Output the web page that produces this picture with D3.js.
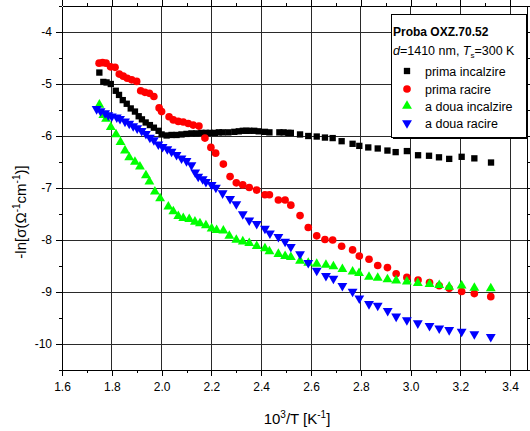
<!DOCTYPE html>
<html><head><meta charset="utf-8">
<script src="https://cdn.jsdelivr.net/npm/d3@7"></script>
<style>
html,body{margin:0;padding:0;background:#fff;}
svg{display:block;font-family:"Liberation Sans",Arial,sans-serif;}
</style></head>
<body>
<svg id="chart" width="530" height="431"></svg>
<script>
// ---- data ----
const xTicks = [1.6,1.8,2.0,2.2,2.4,2.6,2.8,3.0,3.2,3.4];
const yTicks = [-4,-5,-6,-7,-8,-9,-10];
const seriesNames = ["prima incalzire","prima racire","a doua incalzire","a doua racire"];
const seriesColors = ["#000000","#ff0000","#00ff00","#0000ff"];

const primaIncalzireX = [1.75,1.766,1.779,1.796,1.816,1.829,1.844,1.86,1.876,1.893,1.908,1.921,1.936,1.953,1.969,1.988,2.0,2.02,2.04,2.06,2.08,2.10,2.12,2.14,2.16,2.178,2.194,2.214,2.23,2.245,2.268,2.292,2.31,2.326,2.34,2.352,2.372,2.39,2.415,2.433,2.473,2.49,2.509,2.519,2.556,2.589,2.623,2.656,2.687,2.723,2.767,2.794,2.83,2.868,2.907,2.94,2.985,3.03,3.074,3.114,3.155,3.205,3.256,3.323];
const primaIncalzireY = [-4.78,-4.96,-4.97,-5.0,-5.13,-5.21,-5.31,-5.38,-5.47,-5.53,-5.62,-5.68,-5.74,-5.79,-5.84,-5.90,-5.97,-5.99,-5.98,-5.98,-5.97,-5.96,-5.95,-5.95,-5.94,-5.94,-5.94,-5.94,-5.93,-5.93,-5.93,-5.92,-5.91,-5.90,-5.90,-5.90,-5.90,-5.91,-5.92,-5.93,-5.93,-5.93,-5.94,-5.94,-5.97,-6.0,-6.01,-6.03,-6.04,-6.10,-6.15,-6.19,-6.22,-6.24,-6.28,-6.31,-6.29,-6.37,-6.38,-6.41,-6.44,-6.40,-6.43,-6.51];

const primaRacireX = [1.749,1.763,1.777,1.795,1.813,1.830,1.846,1.862,1.880,1.90,1.916,1.933,1.951,1.969,1.99,2.0,2.03,2.047,2.067,2.087,2.107,2.127,2.15,2.174,2.198,2.217,2.248,2.275,2.30,2.326,2.352,2.382,2.415,2.433,2.469,2.496,2.519,2.556,2.589,2.623,2.656,2.687,2.723,2.767,2.794,2.833,2.868,2.907,2.942,2.985,3.03,3.076,3.115,3.155,3.205,3.256,3.322];
const primaRacireY = [-4.60,-4.59,-4.60,-4.67,-4.68,-4.81,-4.85,-4.89,-4.92,-4.95,-5.13,-5.16,-5.18,-5.24,-5.46,-5.53,-5.63,-5.69,-5.72,-5.73,-5.76,-5.79,-5.81,-6.04,-6.22,-6.33,-6.54,-6.78,-6.90,-6.94,-6.99,-7.04,-7.13,-7.13,-7.23,-7.23,-7.33,-7.53,-7.76,-7.92,-7.99,-8.0,-8.12,-8.19,-8.31,-8.37,-8.49,-8.53,-8.65,-8.72,-8.77,-8.82,-8.88,-8.93,-8.99,-9.03,-9.09];

const aDouaIncalzireX = [1.75,1.766,1.777,1.796,1.817,1.835,1.853,1.87,1.893,1.913,1.937,1.951,1.973,1.994,2.027,2.047,2.067,2.087,2.111,2.134,2.154,2.178,2.201,2.221,2.248,2.272,2.30,2.326,2.352,2.382,2.415,2.433,2.469,2.496,2.519,2.556,2.589,2.623,2.66,2.69,2.726,2.767,2.793,2.833,2.868,2.907,2.942,2.985,3.029,3.076,3.115,3.155,3.205,3.256,3.322];
const aDouaIncalzireY = [-5.40,-5.60,-5.67,-5.83,-5.97,-6.12,-6.28,-6.41,-6.50,-6.59,-6.76,-6.88,-7.07,-7.20,-7.36,-7.45,-7.54,-7.58,-7.60,-7.65,-7.68,-7.72,-7.78,-7.81,-7.82,-7.92,-8.0,-8.03,-8.06,-8.12,-8.16,-8.22,-8.27,-8.31,-8.33,-8.40,-8.44,-8.46,-8.48,-8.51,-8.56,-8.61,-8.64,-8.71,-8.73,-8.76,-8.78,-8.80,-8.83,-8.85,-8.87,-8.90,-8.88,-8.92,-8.93];

const aDouaRacireX = [1.739,1.755,1.773,1.786,1.80,1.82,1.833,1.853,1.87,1.886,1.902,1.92,1.937,1.953,1.969,1.987,2.004,2.023,2.04,2.06,2.08,2.10,2.12,2.135,2.147,2.165,2.178,2.201,2.218,2.245,2.275,2.30,2.326,2.352,2.382,2.415,2.435,2.469,2.496,2.519,2.556,2.589,2.623,2.66,2.69,2.726,2.767,2.794,2.833,2.868,2.908,2.942,2.985,3.029,3.076,3.115,3.155,3.205,3.256,3.322];
const aDouaRacireY = [-5.48,-5.52,-5.56,-5.60,-5.62,-5.64,-5.67,-5.72,-5.76,-5.81,-5.85,-5.90,-5.96,-6.03,-6.08,-6.16,-6.21,-6.25,-6.30,-6.36,-6.43,-6.48,-6.56,-6.70,-6.78,-6.83,-6.88,-6.94,-6.99,-7.10,-7.21,-7.31,-7.50,-7.62,-7.69,-7.78,-7.87,-7.94,-8.03,-8.13,-8.27,-8.44,-8.59,-8.69,-8.74,-8.88,-8.99,-9.12,-9.23,-9.26,-9.36,-9.47,-9.54,-9.60,-9.65,-9.70,-9.73,-9.76,-9.81,-9.86];

// ---- layout ----
const svg = d3.select("#chart");
const L = 62, R = 527, T = 6, B = 370;
const x = d3.scaleLinear().domain([1.6, 1.6 + (R - L) / 249]).range([L, R]);
const y = d3.scaleLinear().domain([-10.5, -3.5]).range([B, T]);

const xMinor = d3.range(1.7, 3.45, 0.2).map(v => +v.toFixed(2));
const yMinor = [-3.5,-4.5,-5.5,-6.5,-7.5,-8.5,-9.5,-10.5];

// grid
const grid = svg.append("g").attr("shape-rendering","crispEdges");
grid.selectAll("line.vx").data(xTicks.slice(1)).join("line")
  .attr("x1", d => x(d)).attr("x2", d => x(d)).attr("y1", T).attr("y2", B)
  .attr("stroke", "#2a2a2a").attr("stroke-width", 1);
grid.selectAll("line.hy").data(yTicks).join("line")
  .attr("x1", L).attr("x2", R).attr("y1", d => y(d)).attr("y2", d => y(d))
  .attr("stroke", "#2a2a2a").attr("stroke-width", 1);

// axes
function styleAxis(g){ g.select(".domain").attr("stroke","#000"); g.selectAll("line").attr("stroke","#000"); g.attr("shape-rendering","crispEdges"); }
const fmtX = d3.format(".1f");
const gx = svg.append("g").attr("transform",`translate(0,${B})`)
  .call(d3.axisBottom(x).tickValues(xTicks).tickFormat(fmtX).tickSizeInner(6).tickSizeOuter(0).tickPadding(6));
gx.call(styleAxis);
gx.selectAll("text").attr("font-size", 12).attr("fill","#000").attr("font-family","Liberation Sans, Arial, sans-serif");
svg.append("g").attr("transform",`translate(0,${B})`)
  .call(d3.axisBottom(x).tickValues(xMinor).tickFormat("").tickSizeInner(3).tickSizeOuter(0))
  .call(g => { g.select(".domain").remove(); g.selectAll("line").attr("stroke","#000"); g.attr("shape-rendering","crispEdges"); });

const gy = svg.append("g").attr("transform",`translate(${L},0)`)
  .call(d3.axisLeft(y).tickValues(yTicks).tickFormat(d => String(d)).tickSizeInner(6).tickSizeOuter(0).tickPadding(4));
gy.call(styleAxis);
gy.selectAll("text").attr("font-size", 12).attr("fill","#000").attr("font-family","Liberation Sans, Arial, sans-serif");
svg.append("g").attr("transform",`translate(${L},0)`)
  .call(d3.axisLeft(y).tickValues(yMinor).tickFormat("").tickSizeInner(3).tickSizeOuter(0))
  .call(g => { g.select(".domain").remove(); g.selectAll("line").attr("stroke","#000"); g.attr("shape-rendering","crispEdges"); });

// top and right axes (ticks outward, no labels)
svg.append("g").attr("transform",`translate(0,${T})`)
  .call(d3.axisTop(x).tickValues(xTicks).tickFormat("").tickSizeInner(6).tickSizeOuter(0)).call(styleAxis);
svg.append("g").attr("transform",`translate(0,${T})`)
  .call(d3.axisTop(x).tickValues(xMinor).tickFormat("").tickSizeInner(3).tickSizeOuter(0))
  .call(g => { g.select(".domain").remove(); g.selectAll("line").attr("stroke","#000"); g.attr("shape-rendering","crispEdges"); });
svg.append("g").attr("transform",`translate(${R},0)`)
  .call(d3.axisRight(y).tickValues(yTicks).tickFormat("").tickSizeInner(6).tickSizeOuter(0)).call(styleAxis);
svg.append("g").attr("transform",`translate(${R},0)`)
  .call(d3.axisRight(y).tickValues(yMinor).tickFormat("").tickSizeInner(3).tickSizeOuter(0))
  .call(g => { g.select(".domain").remove(); g.selectAll("line").attr("stroke","#000"); g.attr("shape-rendering","crispEdges"); });

// symbols
const symTypes = [d3.symbolSquare, d3.symbolCircle, d3.symbolTriangle, d3.symbolTriangle];
const symSizes = [40, 46, 42, 42];
const symRot = [0, 0, 0, 180];
const seriesData = [
  d3.zip(primaIncalzireX, primaIncalzireY),
  d3.zip(primaRacireX, primaRacireY),
  d3.zip(aDouaIncalzireX, aDouaIncalzireY),
  d3.zip(aDouaRacireX, aDouaRacireY)
];
const symPath = i => d3.symbol().type(symTypes[i]).size(symSizes[i])();
seriesData.forEach((data, i) => {
  svg.append("g").selectAll("path").data(data).join("path")
    .attr("d", symPath(i))
    .attr("transform", d => `translate(${x(d[0])},${y(d[1])}) rotate(${symRot[i]})`)
    .attr("fill", seriesColors[i]);
});

// axis titles
svg.append("text").attr("x", (L + 510) / 2 + 11).attr("y", 424).attr("text-anchor","middle")
  .attr("font-size", 15).attr("fill","#000")
  .html('10<tspan font-size="10" dy="-6">3</tspan><tspan dy="6">/T [K</tspan><tspan font-size="10" dy="-6">-1</tspan><tspan dy="6">]</tspan>');
svg.append("text").attr("transform","translate(26,212) rotate(-90)").attr("text-anchor","middle")
  .attr("font-size", 15).attr("fill","#000")
  .html('-ln[σ(Ω<tspan font-size="10" dy="-6">-1</tspan><tspan dy="6">cm</tspan><tspan font-size="10" dy="-6">-1</tspan><tspan dy="6">)]</tspan>');

// legend
const lg = svg.append("g");
const lx = 391, ly = 14, lw = 135, lh = 123;
lg.append("rect").attr("x", lx + 2).attr("y", ly + 2).attr("width", lw).attr("height", lh).attr("fill", "#000").attr("shape-rendering","crispEdges");
lg.append("rect").attr("x", lx).attr("y", ly).attr("width", lw).attr("height", lh).attr("fill", "#fff").attr("stroke", "#000").attr("stroke-width",1).attr("shape-rendering","crispEdges");
lg.append("text").attr("x", 393).attr("y", 36).attr("font-size", 12).attr("font-weight","bold").attr("fill","#000").text("Proba OXZ.70.52");
lg.append("text").attr("x", 393).attr("y", 55).attr("font-size", 12.5).attr("fill","#000")
  .html('<tspan font-style="italic">d</tspan>=1410 nm, <tspan font-style="italic">T</tspan><tspan font-size="8" dy="3">s</tspan><tspan dy="-3">=300 K</tspan>');
const legY = [71, 89, 106, 123];
seriesNames.forEach((name, i) => {
  lg.append("path").attr("d", symPath(i))
    .attr("transform", `translate(407,${legY[i]}) rotate(${symRot[i]})`).attr("fill", seriesColors[i]);
  lg.append("text").attr("x", 425).attr("y", legY[i] + 4.5).attr("font-size", 12.5).attr("fill","#000").text(name);
});
</script>
</body></html>
